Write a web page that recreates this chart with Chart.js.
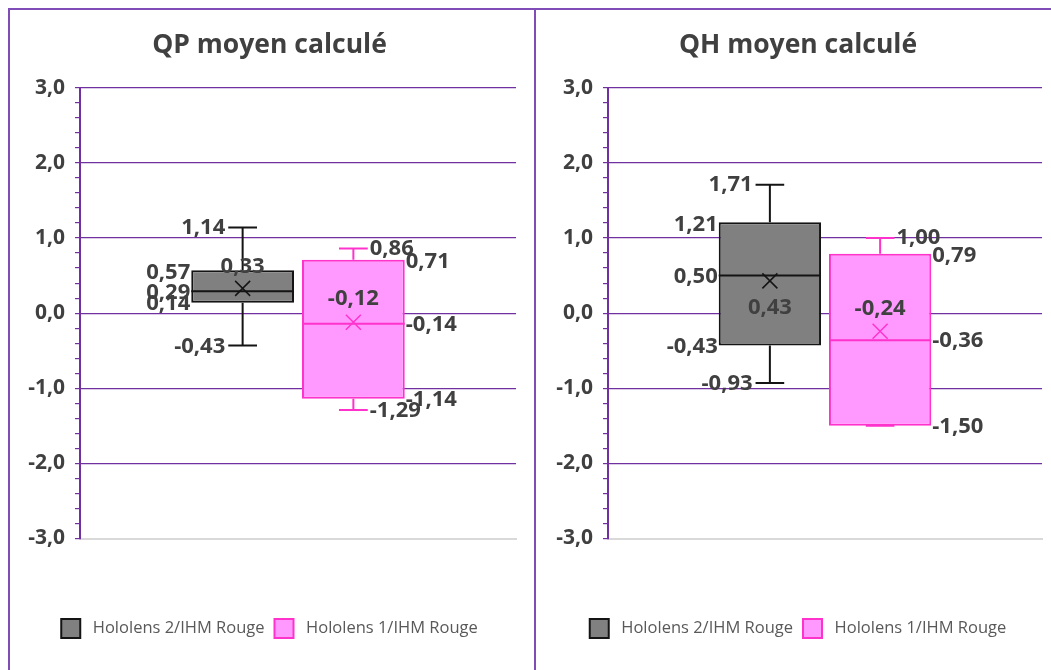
<!DOCTYPE html>
<html>
<head>
<meta charset="utf-8">
<script src="https://cdn.jsdelivr.net/npm/chart.js@4.4.0/dist/chart.umd.min.js"></script>
<style>
  html, body { margin: 0; padding: 0; background: #fff; overflow: hidden; width: 1051px; height: 670px; }
  #frame { position: absolute; left: 8px; top: 8px; width: 1100px; height: 700px;
           border-left: 2px solid #7F4CB8; border-top: 2px solid #7F4CB8; }
  #sep { position: absolute; left: 534px; top: 8px; width: 2px; height: 700px; background: #7F4CB8; }
  .panel { position: absolute; top: 10px; }
  #p1 { left: 10px; }
  #p2 { left: 536px; }
</style>
</head>
<body>
<div id="frame"></div>
<div id="sep"></div>
<div class="panel" id="p1"><canvas id="c1" width="525" height="660"></canvas></div>
<div class="panel" id="p2"><canvas id="c2" width="525" height="660"></canvas></div>
<script>
// Series and chart titles
const seriesNames = ['Hololens 2/IHM Rouge', 'Hololens 1/IHM Rouge'];
const chartTitles = ['QP moyen calculé', 'QH moyen calculé'];

// Value axis ticks
const yTickValues = [-3, -2, -1, 0, 1, 2, 3];
const yTickLabels = ['-3,0', '-2,0', '-1,0', '0,0', '1,0', '2,0', '3,0'];

// QP moyen calculé : five-number summary + mean, one entry per series
const qpMin    = [-0.43, -1.29];
const qpQ1     = [ 0.14, -1.14];
const qpMedian = [ 0.29, -0.14];
const qpQ3     = [ 0.57,  0.71];
const qpMax    = [ 1.14,  0.86];
const qpMean   = [ 0.33, -0.12];

// QH moyen calculé
const qhMin    = [-0.93, -1.50];
const qhQ1     = [-0.43, -1.50];
const qhMedian = [ 0.50, -0.36];
const qhQ3     = [ 1.21,  0.79];
const qhMax    = [ 1.71,  1.00];
const qhMean   = [ 0.43, -0.24];

// Styling
const FONT = '"Open Sans", "DejaVu Sans", sans-serif';
const TEXT = '#404040';
const PURPLE = '#7030A0';
const fills = ['#808080', '#FF99FF'];
const strokes = ['#141414', '#FF33CC'];
// vertical shift of the mean label relative to the mean marker, per chart and series
const meanLabelShift = [[-22, -23], [27, -22]];

const fmt = v => v.toFixed(2).replace('.', ',');

// Whiskers, median line, mean marker and value labels, placed through the chart's scales
const boxExtras = {
  id: 'boxExtras',
  afterDatasetsDraw(chart) {
    const ctx = chart.ctx;
    const y = chart.scales.y;
    chart.data.datasets.forEach((ds, d) => {
      const el = chart.getDatasetMeta(d).data[0];
      const s = ds.stats;
      const cx = el.x, half = el.width / 2;
      const capHalf = el.width * 0.14;
      const yMin = y.getPixelForValue(s.min), yQ1 = y.getPixelForValue(s.q1);
      const yMed = y.getPixelForValue(s.median), yQ3 = y.getPixelForValue(s.q3);
      const yMax = y.getPixelForValue(s.max), yMean = y.getPixelForValue(s.mean);
      ctx.save();
      ctx.strokeStyle = strokes[d];
      ctx.lineWidth = 2;
      ctx.beginPath();
      // whiskers
      ctx.moveTo(cx, yQ3); ctx.lineTo(cx, yMax);
      ctx.moveTo(cx - capHalf, yMax); ctx.lineTo(cx + capHalf, yMax);
      ctx.moveTo(cx, yQ1); ctx.lineTo(cx, yMin);
      ctx.moveTo(cx - capHalf, yMin); ctx.lineTo(cx + capHalf, yMin);
      // median
      ctx.moveTo(cx - half, yMed); ctx.lineTo(cx + half, yMed);
      ctx.stroke();
      // mean marker
      ctx.lineWidth = 1.5;
      const m = 7.5;
      ctx.beginPath();
      ctx.moveTo(cx - m, yMean - m); ctx.lineTo(cx + m, yMean + m);
      ctx.moveTo(cx - m, yMean + m); ctx.lineTo(cx + m, yMean - m);
      ctx.stroke();

      // value labels
      ctx.font = 'bold 22px ' + FONT;
      ctx.fillStyle = TEXT;
      ctx.textBaseline = 'middle';
      const left = d === 0;
      ctx.textAlign = left ? 'right' : 'left';
      const capX = left ? cx - capHalf - 3 : cx + capHalf + 2;
      const boxX = left ? cx - half - 1 : cx + half + 1;
      ctx.fillText(fmt(s.max), capX, yMax);
      if (s.min !== s.q1) ctx.fillText(fmt(s.min), capX, yMin + 1);
      ctx.fillText(fmt(s.q3), boxX, yQ3 + 2);
      ctx.fillText(fmt(s.median), boxX, yMed + 1);
      ctx.fillText(fmt(s.q1), boxX, yQ1 + 1);
      ctx.textAlign = 'center';
      ctx.fillText(fmt(s.mean), cx, yMean + ds.meanShift);
      ctx.restore();
    });
  }
};

function makeChart(canvasId, idx, mins, q1s, meds, q3s, maxs, means, padLeft, axisWidth) {
  const datasets = seriesNames.map((name, i) => ({
    label: name,
    data: [[q1s[i], q3s[i]]],
    backgroundColor: fills[i],
    borderColor: strokes[i],
    borderWidth: 2,
    borderSkipped: false,
    categoryPercentage: 0.508,
    barPercentage: 0.928,
    stats: { min: mins[i], q1: q1s[i], median: meds[i], q3: q3s[i], max: maxs[i], mean: means[i] },
    meanShift: meanLabelShift[idx][i]
  }));
  return new Chart(document.getElementById(canvasId), {
    type: 'bar',
    data: { labels: [''], datasets },
    plugins: [boxExtras],
    options: {
      responsive: false,
      animation: false,
      layout: { padding: { left: padLeft, right: 19, top: 0, bottom: 22 } },
      plugins: {
        tooltip: { enabled: false },
        title: {
          display: true,
          text: chartTitles[idx],
          color: TEXT,
          font: { family: FONT, size: 26.5, weight: 'bold' },
          padding: { top: 20, bottom: 26 }
        },
        legend: {
          position: 'bottom',
          labels: {
            color: '#595959',
            font: { family: FONT, size: 16.5 },
            boxWidth: 19,
            boxHeight: 19,
            padding: 10,
            generateLabels: chart =>
              Chart.defaults.plugins.legend.labels.generateLabels(chart)
                .map(item => Object.assign(item, { text: ' ' + item.text }))
          }
        }
      },
      scales: {
        x: {
          type: 'category',
          grid: { display: false, drawTicks: false },
          ticks: { display: false },
          border: { display: true, color: '#D9D9D9', width: 2 },
          afterFit: s => { s.height = 70.5; }
        },
        y: {
          min: -3, max: 3,
          ticks: {
            stepSize: 0.2,
            autoSkip: false,
            padding: 10,
            color: TEXT,
            font: { family: FONT, size: 21, weight: 'bold' },
            callback: v => {
              const r = Math.round(v);
              return Math.abs(v - r) < 1e-6 ? yTickLabels[yTickValues.indexOf(r)] : '';
            }
          },
          grid: {
            color: c => {
              const v = c.tick ? c.tick.value : 0;
              const r = Math.round(v);
              return (Math.abs(v - r) < 1e-6 && r > -3) ? PURPLE : 'rgba(0,0,0,0)';
            },
            tickColor: PURPLE,
            tickLength: 5,
            lineWidth: 1.2
          },
          border: { color: PURPLE, width: 2 },
          afterFit: s => { s.width = axisWidth; }
        }
      }
    }
  });
}

makeChart('c1', 0, qpMin, qpQ1, qpMedian, qpQ3, qpMax, qpMean, 13, 57);
makeChart('c2', 1, qhMin, qhQ1, qhMedian, qhQ3, qhMax, qhMean, 18, 54);
</script>
</body>
</html>
